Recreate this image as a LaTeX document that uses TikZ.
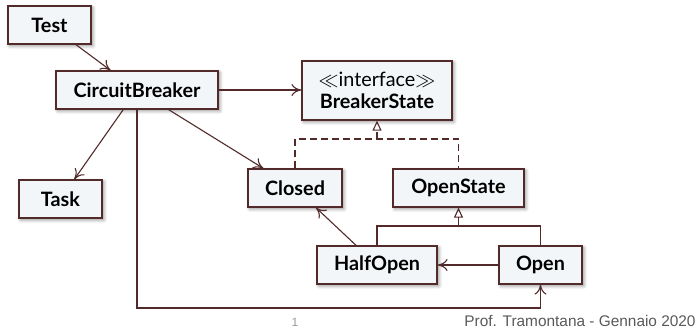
\documentclass[tikz,border=0pt]{standalone}
\usepackage{fontspec}
\setsansfont{Lato}
\newfontfamily\footfont{Liberation Sans}
\usetikzlibrary{arrows.meta,shadows.blur}
\definecolor{umlline}{RGB}{82,42,42}
\definecolor{umlfill}{RGB}{242,246,248}
\tikzset{
	umlclass/.style={draw=umlline, fill=umlfill, line width=0.6pt, minimum height=19pt, inner sep=0pt,
		font=\sffamily\bfseries\fontsize{9.9}{11}\selectfont,
		blur shadow={shadow xshift=0.9pt, shadow yshift=-0.9pt, shadow blur steps=6, shadow opacity=45}},
	assoc/.style={draw=umlline, line width=0.55pt, -{Computer Modern Rightarrow[length=5pt,width=6pt]}},
	realize/.style={draw=umlline, line width=0.55pt, dash pattern=on 3.5pt off 2pt},
	inherit/.style={draw=umlline, line width=0.55pt},
	hollowtip/.style={-{Triangle[open,length=5pt,width=4.5pt]}}
}

\begin{document}
\begin{tikzpicture}[x=0.5pt, y=-0.5pt]
		%%%%% START %%%%%
		\useasboundingbox (0, 0) rectangle (697, 328);
		
		\node[umlclass, minimum width=41.5pt] (test) at (49.5, 25) {Test};
		\node[umlclass, minimum width=81pt] (breaker) at (137, 90) {CircuitBreaker};
		\node[umlclass, minimum width=75pt, minimum height=29.5pt, align=center] (state) at (377, 90.5)
			{{\mdseries$\ll$interface$\gg$}\\BreakerState};
		\node[umlclass, minimum width=41.5pt] (task) at (60.5, 199) {Task};
		\node[umlclass, minimum width=47pt] (closed) at (295, 188) {Closed};
		\node[umlclass, minimum width=65.5pt] (openstate) at (458.5, 188) {OpenState};
		\node[umlclass, minimum width=60pt] (halfopen) at (377, 265) {HalfOpen};
		\node[umlclass, minimum width=41.5pt] (open) at (540.5, 265) {Open};
		
		\coordinate (realizejoin) at (377, 139);
		\coordinate (inheritjoin) at (458.5, 226);
		\coordinate (lowrail) at (137, 308);
		
		% associations
		\draw[assoc] (test) -- (breaker);
		\draw[assoc] (breaker.east) -- (breaker.east -| state.west);
		\draw[assoc] (breaker) -- (task);
		\draw[assoc] (breaker) -- (closed);
		\draw[assoc] (halfopen) -- (closed);
		\draw[assoc] (open.west) -- (open.west -| halfopen.east);
		\draw[assoc] (breaker.south) -- (lowrail) -| (open.south);
		
		% interface realization
		\draw[realize] (closed.north) |- (realizejoin) -| (openstate.north);
		\draw[realize, hollowtip] (realizejoin) -- (state.south);
		
		% inheritance
		\draw[inherit] (halfopen.north) |- (inheritjoin) -| (open.north);
		\draw[inherit, hollowtip] (inheritjoin) -- (openstate.south);
		
		\node[anchor=base, text=black!40, font=\footfont\fontsize{6}{7}\selectfont] (pagenum) at (295, 326) {1};
		\node[anchor=base east, inner sep=0pt, text=black!65, font=\footfont\fontsize{7.7}{9}\selectfont] (footer) at (696, 326)
			{Prof. Tramontana - Gennaio 2020};
		%%%%% END %%%%%
\end{tikzpicture}
\end{document}
